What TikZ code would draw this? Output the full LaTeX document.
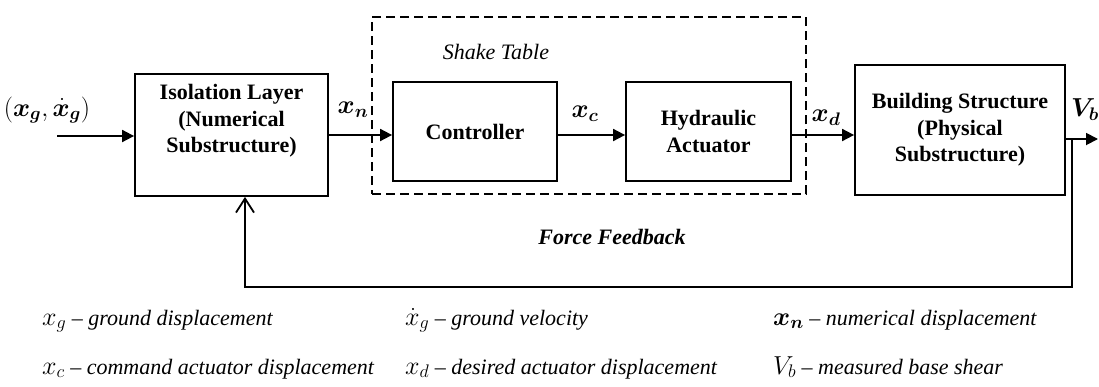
\RequirePackage{fix-cm}
\documentclass[tikz,border=0pt]{standalone}
\usepackage{amsmath,bm}
\usepackage{fontspec}
\setmainfont{Liberation Serif}
\usetikzlibrary{arrows.meta}
\newcommand{\sigmath}[1]{{\fontsize{26}{28}\selectfont$#1$}}
\begin{document}
\begin{tikzpicture}[x=1pt,y=-1pt,
  blk/.style={draw, line width=1.8pt, inner sep=0pt},
  dashbox/.style={draw, line width=1.8pt, dash pattern=on 9pt off 5pt, inner sep=0pt},
  txt/.style={inner sep=0pt, align=center, font=\fontsize{22}{26.5}\selectfont\bfseries},
  lbl/.style={inner sep=0pt, font=\fontsize{22}{26}\selectfont},
  leg/.style={inner sep=0pt, anchor=base west, font=\fontsize{22}{26}\selectfont\itshape},
  arr/.style={line width=1.8pt, -{Triangle[length=12pt,width=12pt]}},
  fbarr/.style={line width=1.8pt, -{Straight Barb[length=14pt,width=18pt,line width=1.8pt]}}]
\useasboundingbox (0,0) rectangle (1099,386);

% dashed shake table frame
\node[dashbox, minimum width=434pt, minimum height=177pt] (shake) at (589,105.5) {};
\node[lbl, font=\fontsize{22}{26}\selectfont\itshape] (shakeT) at (496,52) {Shake Table};

% blocks
\node[blk, minimum width=193pt, minimum height=122pt] (iso) at (231.5,135) {};
\node[txt] (isoT) at ([yshift=14pt]iso.center) {Isolation Layer\\(Numerical\\Substructure)};
\node[blk, minimum width=164pt, minimum height=99pt] (ctrl) at (475,131.5) {};
\node[txt] (ctrlT) at (ctrl.center) {Controller};
\node[blk, minimum width=165pt, minimum height=99pt] (hyd) at (708.5,131.5) {};
\node[txt] (hydT) at (hyd.center) {Hydraulic\\Actuator};
\node[blk, minimum width=210pt, minimum height=130pt] (bld) at (960,130) {};
\node[txt] (bldT) at (bld.center) {Building Structure\\(Physical\\Substructure)};

% connectors
\coordinate (in) at (57,136);
\draw[arr] (in) -- (iso.west |- in);
\draw[arr] (iso.east) -- (ctrl.west |- iso.east);
\draw[arr] (ctrl.east |- iso.east) -- (hyd.west |- iso.east);
\draw[arr] (hyd.east |- iso.east) -- (bld.west |- iso.east);
\coordinate (out) at (1098,139);
\draw[arr] (bld.east |- out) -- (out);
\coordinate (fb1) at (1072,139);
\coordinate (fb2) at (245,287);
\draw[fbarr] (fb1) |- (fb2) -- (fb2 |- iso.south);

% signal labels
\node[lbl] (inL) at (47,110) {\sigmath{(\bm{x_g},\bm{\dot{x}_g})}};
\node[lbl] (xnL) at (353,110) {\sigmath{\bm{x_n}}};
\node[lbl] (xcL) at (585,114) {\sigmath{\bm{x_c}}};
\node[lbl] (xdL) at (826,118) {\sigmath{\bm{x_d}}};
\node[lbl] (vbL) at (1085,110) {\sigmath{\bm{V_b}}};
\node[lbl, font=\fontsize{22}{26}\selectfont\bfseries\itshape] (fbT) at (612,237) {Force Feedback};

% legend
\node[leg] (l1) at (42,325) {\sigmath{x_g} -- ground displacement};
\node[leg] (l2) at (405,325) {\sigmath{\dot{x}_g} -- ground velocity};
\node[leg] (l3) at (773,325) {\sigmath{\bm{x_n}} -- numerical displacement};
\node[leg] (l4) at (42,374) {\sigmath{x_c} -- command actuator displacement};
\node[leg] (l5) at (405,374) {\sigmath{x_d} -- desired actuator displacement};
\node[leg] (l6) at (773,374) {\sigmath{V_b} -- measured base shear};
\end{tikzpicture}
\end{document}
